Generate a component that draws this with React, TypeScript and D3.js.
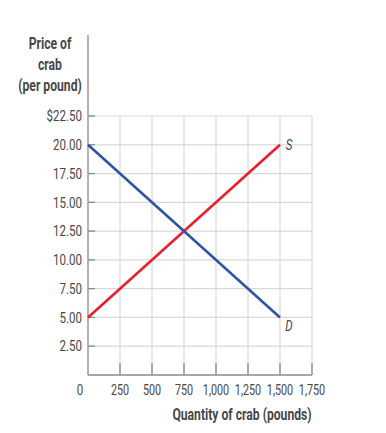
import React from "react";
import * as d3 from "d3";

const xTicks = [250, 500, 750, 1000, 1250, 1500, 1750];
const xTickLabels = ["250", "500", "750", "1,000", "1,250", "1,500", "1,750"];
const yTicks = [2.5, 5, 7.5, 10, 12.5, 15, 17.5, 20, 22.5];
const yTickLabels = ["2.50", "5.00", "7.50", "10.00", "12.50", "15.00", "17.50", "20.00", "$22.50"];
const supplyQ = [0, 1500];
const supplyP = [5, 20];
const demandQ = [0, 1500];
const demandP = [20, 5];
const titleLines = ["Price of", "crab", "(per pound)"];
const xTitle = "Quantity of crab (pounds)";

const FONT = "Roboto, 'Liberation Sans', sans-serif";
const TEXT = "#474747";

function CText(props: {
  x: number; y: number; children: React.ReactNode; anchor?: string; size?: number;
  weight?: string | number; italic?: boolean; sx?: number;
}) {
  const { x, y, children, anchor = "middle", size = 14, weight = "normal", italic = false, sx = 0.77 } = props;
  return (
    <text
      transform={`translate(${x},${y}) scale(${sx},1)`}
      dy="0.35em"
      textAnchor={anchor}
      fontFamily={FONT}
      fontSize={size}
      fontWeight={weight}
      fontStyle={italic ? "italic" : "normal"}
      fill={TEXT}
    >
      {children}
    </text>
  );
}

export default function App() {
  const W = 386, H = 433;
  const x = d3.scaleLinear().domain([0, 1750]).range([88, 312]);
  const y = d3.scaleLinear().domain([0, 22.5]).range([375, 116]);
  const line = d3.line<[number, number]>().x((d) => x(d[0])).y((d) => y(d[1]));
  const supply = supplyQ.map((q, i) => [q, supplyP[i]] as [number, number]);
  const demand = demandQ.map((q, i) => [q, demandP[i]] as [number, number]);

  return (
    <svg width={W} height={H} style={{ position: "absolute", left: 0, top: 0 }}>
      <rect width={W} height={H} fill="#fff" />
      {xTicks.map((t) => (
        <line key={"gx" + t} x1={x(t)} x2={x(t)} y1={y(22.5)} y2={y(0)} stroke="#d9d9d9" strokeWidth={1.2} />
      ))}
      {yTicks.map((t) => (
        <line key={"gy" + t} x1={x(0)} x2={x(1750)} y1={y(t)} y2={y(t)} stroke="#d9d9d9" strokeWidth={1.2} />
      ))}
      {xTicks.map((t) => (
        <line key={"tx" + t} x1={x(t)} x2={x(t)} y1={y(0) - 12} y2={y(0)} stroke="#8a8a8a" strokeWidth={1.3} />
      ))}
      {yTicks.map((t) => (
        <line key={"ty" + t} x1={x(0)} x2={x(0) + 7} y1={y(t)} y2={y(t)} stroke="#8a8a8a" strokeWidth={1.3} />
      ))}
      <line x1={x(0)} x2={x(0)} y1={35} y2={y(0)} stroke="#8a8a8a" strokeWidth={1.3} />
      <line x1={x(0)} x2={x(1750)} y1={y(0)} y2={y(0)} stroke="#8a8a8a" strokeWidth={1.3} />
      <path d={line(supply) || ""} stroke="#e8202a" strokeWidth={2.6} fill="none" />
      <path d={line(demand) || ""} stroke="#2e54a4" strokeWidth={2.6} fill="none" />
      <CText x={x(1500) + 9} y={y(20)} italic size={15}>S</CText>
      <CText x={x(1500) + 9} y={y(5) + 8} italic size={15}>D</CText>
      {yTicks.map((t, i) => (
        <CText key={"ly" + t} x={82} y={y(t)} anchor="end" size={15}>
          {yTickLabels[i]}
        </CText>
      ))}
      <CText x={80} y={390} size={15}>0</CText>
      {xTicks.map((t, i) => (
        <CText key={"lx" + t} x={x(t)} y={390} size={14}>
          {xTickLabels[i]}
        </CText>
      ))}
      {titleLines.map((s, i) => (
        <CText key={"tl" + i} x={50} y={43 + i * 21} weight={700} size={16} sx={0.76}>
          {s}
        </CText>
      ))}
      <CText x={242} y={414} weight={700} size={16} sx={0.76}>
        {xTitle}
      </CText>
    </svg>
  );
}
